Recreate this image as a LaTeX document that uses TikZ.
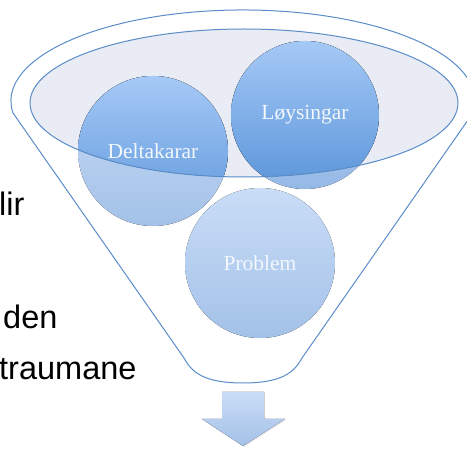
\documentclass[tikz,border=0pt]{standalone}
\usepackage{fontspec}
\setmainfont{Liberation Serif}
\newfontfamily\slidefont{Liberation Sans}
\usetikzlibrary{shadows}
\definecolor{funnelblue}{HTML}{5A8CC8}
\definecolor{rimfill}{HTML}{E9ECF4}
\definecolor{palebluetop}{HTML}{CADDF7}
\definecolor{palebluebot}{HTML}{A3C1E8}
\definecolor{deepbluetop}{HTML}{A6C9F6}
\definecolor{deepbluebot}{HTML}{5A95DA}
\definecolor{labelwhite}{HTML}{F3F7FC}
\tikzset{
	ball/.style = {
			top color    = palebluetop,
			bottom color = palebluebot,
			circular drop shadow = {shadow xshift=0pt, shadow yshift=-4pt, shadow scale=0.97, opacity=.25},
		},
	ballrim/.style = {
			top color    = deepbluetop,
			bottom color = deepbluebot,
		},
	bubble/.style = {
			circle,
			minimum size = 148pt,
			inner sep    = 0pt,
			text         = labelwhite,
			font         = \fontsize{21.5}{24}\selectfont,
		},
	slidetext/.style = {
			anchor    = base west,
			inner sep = 0pt,
			font      = \slidefont\fontsize{32.5}{36}\selectfont,
		}
}

\begin{document}
\begin{tikzpicture}[x=1pt,y=1pt]
	\useasboundingbox (0,0) rectangle (467,450);
	% words of the slide behind
	\node[slidetext] (lir) at (-1,234) {lir};
	\node[slidetext] (den) at (3,121) {den};
	\node[slidetext] (traumane) at (-1,70) {traumane};
	% funnel
	\draw[funnelblue, line width=1pt] (13,337)
		arc[start angle=187.6, end angle=-7.6, x radius=232, y radius=91]
		-- (302,92) .. controls (294,77) and (281,67) .. (243,67)
		.. controls (205,67) and (192,77) .. (184,92) -- cycle;
	\fill[rimfill] (244,347) ellipse [x radius=214, y radius=74];
	% balls
	\coordinate (cd) at (153,299);
	\coordinate (cl) at (305,335);
	\coordinate (cp) at (260,187);
	\fill[ball] (cd) circle [radius=75];
	\fill[ball, bottom color=palebluebot!80!deepbluebot] (cl) circle [radius=74];
	\fill[ball] (cp) circle [radius=75];
	\begin{scope}
		\clip (244,347) ellipse [x radius=214, y radius=74];
		\fill[ballrim] (cd) circle [radius=75];
		\fill[ballrim] (cl) circle [radius=74];
	\end{scope}
	\draw[funnelblue, line width=1pt] (244,347) ellipse [x radius=214, y radius=74];
	\node[bubble] (deltakarar) at (cd) {Deltakarar};
	\node[bubble] (loysingar) at (cl) {Løysingar};
	\node[bubble] (problem) at (cp) {Problem};
	% arrow out of the funnel
	\fill[top color=palebluetop, bottom color=palebluebot,
		drop shadow={opacity=.15, shadow xshift=1pt, shadow yshift=-1pt}]
		(222,58) -- (264,58) -- (264,31) -- (285,31) -- (243,4)
		-- (202,31) -- (222,31) -- cycle;
\end{tikzpicture}
\end{document}
